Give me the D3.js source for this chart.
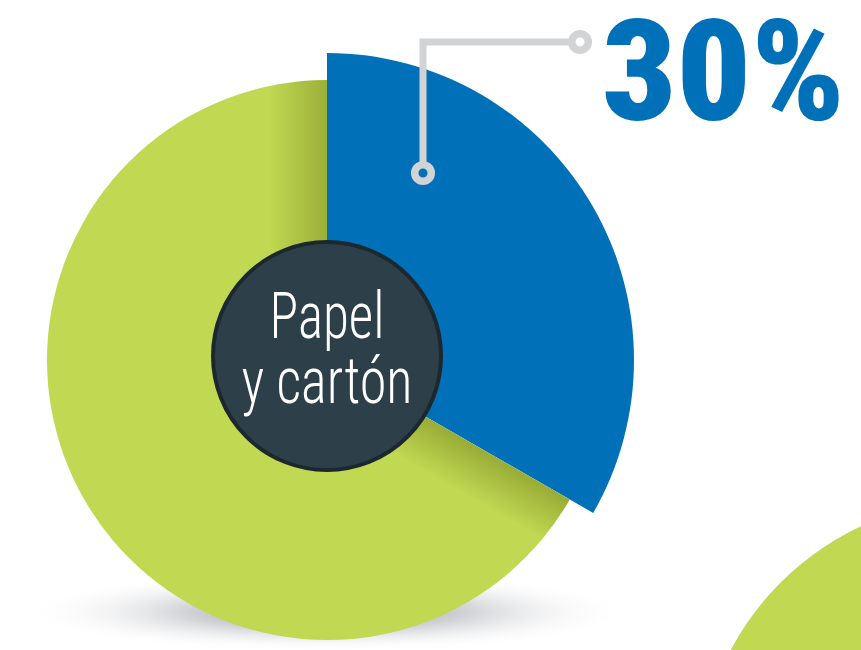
<!DOCTYPE html>
<html><head><meta charset="utf-8">
<script src="https://cdn.jsdelivr.net/npm/d3@7"></script>
<style>html,body{margin:0;padding:0;background:#fff;overflow:hidden}</style>
</head><body>
<svg id="c" width="861" height="650"></svg>
<script>
// ---- data ----
const categories = ["Papel y cartón", "Resto"];
const shares = [33.3, 66.7];          // angular share
const valueLabels = ["30%"];
const centerLines = ["Papel", "y cartón"];
const colors = ["#0070b8", "#c1d852"];

// ---- layout ----
const cx = 327, cy = 360;
const rOuter = [307, 280];
const svg = d3.select("#c");
const defs = svg.append("defs");

// shadow under the pie
const sg = defs.append("radialGradient").attr("id","shadow");
sg.append("stop").attr("offset","0%").attr("stop-color","#8c8e92").attr("stop-opacity",0.95);
sg.append("stop").attr("offset","45%").attr("stop-color","#c4c6ca").attr("stop-opacity",0.8);
sg.append("stop").attr("offset","100%").attr("stop-color","#ffffff").attr("stop-opacity",0);
svg.append("ellipse").attr("cx",cx).attr("cy",612).attr("rx",305).attr("ry",40).attr("fill","url(#shadow)");

// decorative next circle bottom-right
svg.append("circle").attr("cx",980).attr("cy",782).attr("r",282).attr("fill",colors[1]);

const pie = d3.pie().sort(null).value(d => d)(shares);
const g = svg.append("g").attr("transform",`translate(${cx},${cy})`);
const arcs = pie.map((p,i) => d3.arc().innerRadius(0).outerRadius(rOuter[i])(p));

defs.append("clipPath").attr("id","gclip").append("path").attr("d", arcs[1]);

g.selectAll("path.slice").data(pie).join("path")
  .attr("class","slice")
  .attr("d",(d,i)=>arcs[i])
  .attr("fill",(d,i)=>colors[i]);

// shading bands on the green next to the blue slice edges
const g1 = defs.append("linearGradient").attr("id","band1").attr("x1","0").attr("x2","1").attr("y1","0").attr("y2","0");
g1.append("stop").attr("offset","0%").attr("stop-color","#5f6e10").attr("stop-opacity",0);
g1.append("stop").attr("offset","100%").attr("stop-color","#5f6e10").attr("stop-opacity",0.38);
const g2 = defs.append("linearGradient").attr("id","band2").attr("x1","0").attr("x2","1").attr("y1","0").attr("y2","0");
g2.append("stop").attr("offset","0%").attr("stop-color","#5f6e10").attr("stop-opacity",0.42);
g2.append("stop").attr("offset","100%").attr("stop-color","#5f6e10").attr("stop-opacity",0);

const shade = g.append("g").attr("clip-path","url(#gclip)");
shade.append("rect").attr("x",-58).attr("y",-rOuter[1]-5).attr("width",58).attr("height",rOuter[1]+5).attr("fill","url(#band1)");
const endDeg = pie[0].endAngle*180/Math.PI;
shade.append("g").attr("transform",`rotate(${endDeg})`)
  .append("rect").attr("x",0).attr("y",-rOuter[1]-5).attr("width",48).attr("height",rOuter[1]+5).attr("fill","url(#band2)");

// centre hole
svg.append("circle").attr("cx",cx).attr("cy",356).attr("r",114)
  .attr("fill","#2d404a").attr("stroke","#1c282e").attr("stroke-width",4);

const fontCond = "'Liberation Sans Narrow','Arial Narrow','Roboto Condensed',Roboto,sans-serif";
const ct = svg.append("text").attr("text-anchor","middle")
  .attr("font-family",fontCond).attr("font-weight",300).attr("font-size",64).attr("fill","#fff");
const lineY = [338, 403], lineW = [115, 171];
centerLines.forEach((t,i)=>{
  ct.append("tspan").attr("x",cx).attr("y",lineY[i])
    .attr("textLength",lineW[i]).attr("lengthAdjust","spacingAndGlyphs").text(t);
});

// leader line
const lc = "#d2d3d5";
svg.append("path").attr("d","M423,165 L423,42 L572,42").attr("fill","none")
  .attr("stroke",lc).attr("stroke-width",7);
svg.append("circle").attr("cx",423).attr("cy",173).attr("r",8.3).attr("fill",colors[0]).attr("stroke",lc).attr("stroke-width",7.5);
svg.append("circle").attr("cx",580).attr("cy",42).attr("r",8.3).attr("fill","#fff").attr("stroke",lc).attr("stroke-width",7.5);

// value label, scaled horizontally to fit its box
const vl = svg.append("text").attr("x",0).attr("y",0)
  .attr("font-family",fontCond).attr("font-weight",900).attr("font-size",141).attr("fill",colors[0])
  .text(valueLabels[0]);
const natW = vl.node().getComputedTextLength();
const sx = 243 / natW;
vl.attr("transform",`translate(602,120) scale(${sx},1)`);
</script>
</body></html>
